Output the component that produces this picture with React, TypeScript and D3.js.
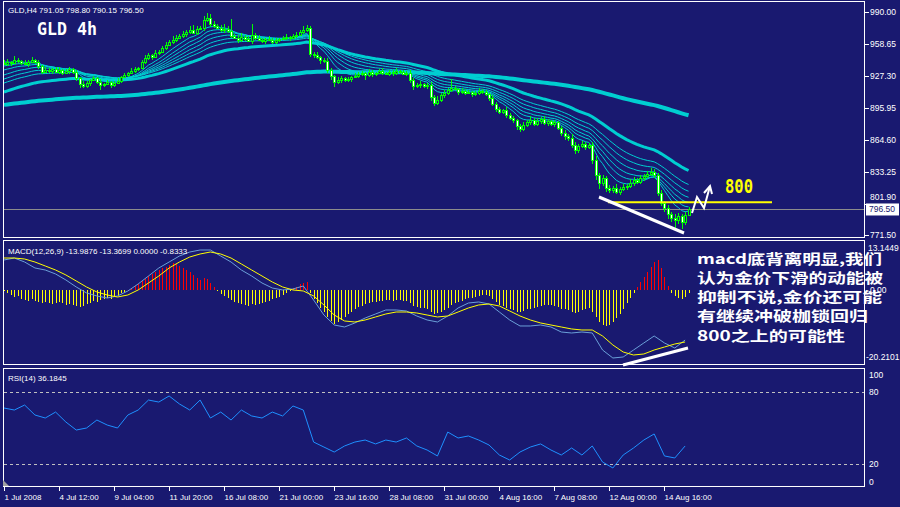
import React, { useEffect } from 'react';
import * as d3 from 'd3';

const BG = '#191970';
const CYAN = '#00CED1';

const timeLabels = ['1 Jul 2008', '4 Jul 12:00', '9 Jul 04:00', '11 Jul 20:00', '16 Jul 08:00', '21 Jul 00:00', '23 Jul 16:00', '28 Jul 08:00', '31 Jul 00:00', '4 Aug 16:00', '7 Aug 08:00', '12 Aug 00:00', '14 Aug 16:00'];
const timeLabelBars = [0, 16, 32, 48, 64, 80, 96, 112, 128, 144, 160, 176, 192];

const priceTicks = ['990.00', '958.65', '927.30', '895.95', '864.60', '833.25', '801.90', '771.50'];

const firstOpen = 940.5;
const closes = [
  939.0, 941.0, 940.0, 943.0, 942.0, 940.0, 939.0, 941.0, 943.0, 941.0,
  937.1, 931.2, 933.2, 932.2, 934.1, 931.2, 933.2, 930.2, 932.2, 934.1,
  931.2, 925.3, 919.4, 917.5, 920.4, 923.4, 925.3, 921.4, 918.5, 919.4,
  921.4, 918.5, 920.4, 922.4, 926.3, 928.3, 930.2, 932.2, 934.1, 935.1,
  941.0, 944.9, 947.9, 945.9, 949.8, 950.8, 954.7, 957.7, 960.6, 962.6,
  964.5, 966.5, 968.4, 970.4, 972.4, 969.4, 973.3, 974.3, 982.2, 984.1,
  978.2, 976.3, 974.3, 972.4, 973.3, 971.4, 966.5, 964.5, 962.6, 965.5,
  963.5, 961.6, 967.5, 964.5, 962.6, 961.6, 963.5, 962.6, 960.6, 962.6,
  963.5, 964.5, 965.5, 964.5, 966.5, 967.5, 970.4, 972.4, 974.3, 948.8,
  947.9, 945.9, 943.0, 942.0, 933.2, 927.3, 921.4, 923.4, 925.3, 923.4,
  924.3, 926.3, 927.3, 929.2, 930.2, 928.3, 931.2, 929.2, 930.2, 932.2,
  930.2, 929.2, 931.2, 930.2, 932.2, 931.2, 929.2, 930.2, 923.4, 917.5,
  918.5, 919.4, 917.5, 918.5, 906.7, 900.8, 903.8, 908.7, 910.6, 913.6,
  915.5, 914.6, 911.6, 912.6, 910.6, 911.6, 909.6, 910.6, 912.6, 911.6,
  909.6, 905.7, 899.8, 895.0, 892.0, 894.0, 889.1, 886.1, 884.2, 878.3,
  875.3, 879.3, 882.2, 884.2, 880.2, 883.2, 885.1, 881.2, 883.2, 880.2,
  882.2, 876.3, 871.4, 868.5, 866.5, 859.7, 854.8, 858.7, 860.6, 857.7,
  859.7, 845.0, 830.3, 822.4, 827.3, 817.5, 815.6, 817.5, 813.6, 816.5,
  818.5, 819.5, 822.4, 825.4, 823.4, 827.3, 829.3, 831.2, 833.2, 830.3,
  812.6, 802.8, 797.9, 792.0, 788.1, 786.2, 790.1, 784.2, 791.05, 796.5,
];
const wickUp = [
  2, 3, 1, 4, 2, 1, 3, 2, 3, 1, 2, 1, 3, 2, 1, 2, 3, 1, 2, 2,
  1, 2, 1, 3, 2, 1, 2, 1, 3, 1, 2, 1, 2, 3, 1, 2, 1, 3, 2, 1,
  2, 3, 2, 1, 3, 2, 2, 3, 2, 4, 3, 2, 3, 2, 4, 5, 3, 2, 4, 5,
  4, 3, 2, 3, 5, 3, 12, 2, 3, 4, 2, 3, 11, 2, 3, 2, 1, 3, 2, 2,
  1, 2, 3, 1, 2, 3, 2, 4, 3, 2, 2, 3, 1, 2, 3, 2, 1, 3, 2, 1,
  2, 1, 3, 2, 2, 1, 3, 2, 1, 2, 3, 1, 2, 2, 3, 1, 2, 2, 3, 2,
  2, 3, 1, 2, 3, 2, 4, 2, 3, 2, 9, 2, 1, 3, 2, 2, 1, 2, 3, 2,
  2, 1, 3, 2, 2, 1, 3, 2, 2, 1, 2, 3, 2, 4, 2, 3, 2, 3, 2, 1,
  2, 1, 2, 3, 2, 4, 3, 2, 3, 2, 2, 3, 4, 2, 3, 2, 3, 2, 4, 2,
  3, 2, 4, 3, 2, 3, 2, 3, 4, 3, 2, 3, 2, 3, 2, 4, 3, 2, 3, 2.3,
];
const wickDn = [
  1, 2, 3, 1, 2, 2, 1, 3, 1, 2, 3, 2, 1, 2, 3, 1, 2, 2, 1, 3,
  2, 3, 4, 2, 2, 3, 1, 2, 5, 2, 1, 3, 2, 1, 2, 1, 2, 1, 2, 2,
  1, 2, 2, 3, 1, 2, 1, 2, 1, 2, 2, 1, 2, 3, 2, 1, 2, 1, 3, 2,
  3, 2, 1, 2, 3, 2, 2, 1, 3, 2, 2, 1, 3, 2, 1, 2, 3, 1, 2, 2,
  2, 1, 2, 3, 1, 2, 1, 2, 2, 3, 3, 2, 4, 2, 3, 4, 5, 2, 3, 2,
  2, 3, 1, 2, 2, 5, 2, 3, 2, 1, 2, 1, 2, 3, 2, 2, 1, 2, 3, 4,
  2, 3, 2, 3, 4, 3, 2, 2, 3, 2, 2, 1, 3, 2, 2, 1, 3, 2, 2, 2,
  2, 3, 2, 3, 2, 2, 3, 2, 3, 4, 3, 2, 2, 3, 2, 2, 3, 2, 3, 2,
  3, 2, 3, 4, 3, 3, 4, 3, 2, 3, 2, 4, 5, 6, 3, 4, 3, 3, 2, 3,
  2, 3, 2, 3, 2, 2, 3, 2, 2, 3, 3, 3, 4, 5, 4, 8, 4, 7, 3, 0.9,
];

// moving averages (EMA): periods and starting values read at the left edge
const thinPeriods = [8, 12, 16, 21, 27, 34];
const thinSeeds = [941.0, 937.1, 933.2, 928.3, 924.3, 920.4];
const midPeriod = 50;
const midSeed = 911.6;
const slowPeriod = 200;
const slowSeed = 899.0;

// MACD lines sampled every 3 bars
const macdStep = 3;
const macdMain = [
  8.09, 8.63, 7.54, 5.90, 5.35, 4.26, 2.62, 0.71, -0.93, -1.75, -2.30, -1.75, -0.38, 1.53, 3.71, 5.90, 7.54,
  9.18, 10.27, 10.82, 10.82, 9.18, 7.54, 5.35, 3.71, 1.80, 0.43, -0.11, 0.16, 0.98, -2.85, -6.95, -9.68, -10.23,
  -9.13, -7.77, -6.67, -5.58, -5.58, -5.85, -7.22, -8.31, -8.86, -7.22, -5.03, -3.67, -3.39, -3.94, -6.13, -8.31,
  -9.95, -9.95, -9.68, -10.23, -11.60, -11.87, -11.60, -11.87, -16.52, -18.71, -18.43, -16.52, -14.60, -12.69,
  -14.60, -15.97, -13.79,
];
const macdSignal = [
  8.63, 8.63, 8.36, 7.54, 6.45, 5.35, 3.99, 2.35, 0.71, -0.66, -1.48, -2.03, -1.48, -0.11, 1.80, 3.71, 5.90,
  7.54, 8.91, 9.73, 10.27, 9.73, 8.63, 7.00, 5.35, 3.71, 2.07, 0.71, -0.11, -0.38, -1.75, -4.21, -6.95, -8.59,
  -8.86, -8.31, -7.49, -6.67, -6.13, -6.13, -6.40, -6.95, -7.49, -7.22, -6.13, -5.03, -4.21, -3.94, -4.49, -5.85,
  -7.22, -8.31, -9.13, -9.68, -10.23, -10.77, -11.05, -11.05, -12.69, -15.15, -17.07, -17.89, -17.61, -16.52,
  -15.70, -14.88, -14.33,
];
const macdHist = [
  -0.5, -1, -1.5, -2, -1.8, -2.5, -2.8, -3, -2.6, -3.2, -3.5, -3.8, -3.3, -3.6, -4, -3.7, -3.4, -3.8, -4.2, -3.9,
  -4.1, -4.5, -4.8, -4.4, -4.0, -3.6, -3.2, -3.4, -2.9, -2.5, -2.2, -2.6, -1.9, -1.5, -1.0, -0.6, -0.3, 0.4, 1.0, 1.6,
  2.4, 3.0, 3.6, 4.2, 4.8, 5.4, 5.9, 6.3, 6.8, 7.2, 7.0, 6.5, 6.0, 5.4, 4.8, 4.0, 3.3, 2.5, 3.2, 2.8,
  1.8, 0.8, -0.4, -1.2, -1.8, -2.4, -2.9, -3.3, -3.6, -3.9, -4.1, -4.4, -4.0, -4.2, -3.9, -3.6, -3.4, -3.0, -2.7, -2.3,
  -1.9, -1.4, -1.0, -0.5, 0.3, 0.8, 1.4, 1.8, 2.0, -0.8, -2.5, -3.8, -5.0, -6.2, -7.5, -8.6, -9.4, -9.0, -8.2, -7.6,
  -6.8, -6.0, -5.4, -4.8, -4.4, -4.0, -3.7, -3.5, -3.3, -3.0, -3.1, -2.8, -2.9, -3.0, -2.8, -2.9, -3.1, -3.0, -3.6, -4.4,
  -4.8, -5.0, -5.1, -5.3, -6.0, -6.6, -6.4, -6.0, -5.5, -4.9, -4.3, -3.8, -3.4, -3.0, -2.7, -2.4, -2.2, -1.9, -1.7, -1.5,
  -1.4, -1.8, -2.6, -3.4, -4.2, -4.6, -5.0, -5.3, -5.6, -6.0, -6.2, -5.8, -5.4, -5.2, -5.0, -4.7, -4.5, -4.3, -4.1, -4.2,
  -4.4, -4.8, -5.2, -5.4, -5.6, -6.0, -6.4, -6.0, -5.6, -5.3, -5.0, -6.2, -7.6, -8.8, -9.6, -10.0, -9.6, -8.8, -7.8, -6.6,
  -5.2, -3.8, -2.4, -1.0, 0.6, 2.0, 3.4, 4.8, 6.2, 7.5, 8.0, 6.0, 3.5, 1.0, -0.8, -1.8, -2.2, -2.5, -2.0, -0.8,
];
const macdMax = 13.1449;
const macdMin = -20.2101;

// RSI(14) sampled every 3 bars
const rsiStep = 3;
const rsi = [
  66.8, 65.1, 69.3, 60.9, 58.4, 63.4, 55.0, 48.3, 50.0, 56.7, 52.5, 50.0, 60.9, 65.1, 73.5, 71.8, 76.9,
  70.2, 65.1, 73.5, 58.4, 63.4, 56.7, 65.1, 60.1, 58.4, 63.4, 60.1, 68.5, 65.1, 38.2, 34.0, 29.8, 34.9,
  38.2, 39.9, 36.6, 39.9, 38.2, 41.6, 34.9, 31.5, 26.5, 46.6, 41.6, 43.3, 39.9, 35.7, 27.3, 23.1, 29.8,
  34.0, 36.6, 31.5, 27.3, 33.2, 27.3, 34.9, 21.4, 16.4, 27.3, 33.2, 39.9, 45.0, 26.5, 24.8, 34.9,
];
const rsiLevels = [80, 20];
const rsiTicks = ['100', '80', '20', '0'];

const noteLines = ['macd底背离明显,我们', '认为金价下滑的动能被', '抑制不说,金价还可能', '有继续冲破枷锁回归', '800之上的可能性'];
const noteWidths = [185, 186, 185, 171, 148];
const noteBaselines = [264, 283, 302, 321, 341];
const level800 = 803.5;

function ema(data: number[], period: number, seed: number): number[] {
  const k = 2 / (period + 1);
  let e = seed;
  return data.map((c, i) => {
    if (i > 0) e = e + k * (c - e);
    return e;
  });
}

const SMALL = "'Liberation Sans', Arial, sans-serif";

export default function App() {
  useEffect(() => {
    document.body.style.margin = '0';
    document.body.style.background = BG;
  }, []);

  const xb = d3.scaleLinear().domain([0, 250]).range([4, 864]);
  const cx = (i: number) => Math.round(xb(i)) + 0.5;
  const yP = d3.scaleLinear().domain([771.5, 990]).range([235, 12]);
  const yM = d3.scaleLinear().domain([macdMin, macdMax]).range([363.5, 241.5]);
  const yR = d3.scaleLinear().domain([0, 100]).range([487.5, 368.5]);

  const maLine = d3.line<number>().x((_, i) => xb(i)).y((v) => yP(v));
  const thin = thinPeriods.map((p, k) => ema(closes, p, thinSeeds[k]));
  const mid = ema(closes, midPeriod, midSeed);
  const slow = ema(closes, slowPeriod, slowSeed);

  const mLine = d3.line<number>().x((_, i) => xb(i * macdStep)).y((v) => yM(v));
  const rLine = d3.line<number>().x((_, i) => xb(i * rsiStep)).y((v) => yR(v));

  const lastClose = closes[closes.length - 1];
  const yLast = yP(lastClose);

  return (
    <svg width={900} height={507} style={{ position: 'absolute', left: 0, top: 0, display: 'block' }}>
      <rect x={0} y={0} width={900} height={507} fill={BG} />

      {/* moving averages */}
      <path d={maLine(slow) || ''} fill="none" stroke={CYAN} strokeWidth={4} />
      <path d={maLine(mid) || ''} fill="none" stroke={CYAN} strokeWidth={3} />
      {thin.map((s, k) => (
        <path key={k} d={maLine(s) || ''} fill="none" stroke={CYAN} strokeWidth={1} />
      ))}

      {/* current price line */}
      <line x1={3} x2={865} y1={Math.round(yLast) + 0.5} y2={Math.round(yLast) + 0.5} stroke="#8c8c8c" strokeWidth={1} />

      {/* candles */}
      <g shapeRendering="crispEdges">
        {closes.map((c, i) => {
          const o = i > 0 ? closes[i - 1] : firstOpen;
          const hi = Math.max(o, c) + wickUp[i];
          const lo = Math.min(o, c) - wickDn[i];
          const x = cx(i);
          const top = Math.round(yP(Math.max(o, c))) + 0.5;
          const bot = Math.round(yP(Math.min(o, c))) + 0.5;
          const bear = c < o;
          return (
            <g key={i}>
              <line x1={x} x2={x} y1={yP(hi)} y2={yP(lo)} stroke="#00ff00" strokeWidth={1} />
              <rect x={x - 1} y={top} width={2} height={Math.max(0, bot - top)} fill={bear ? '#ffffff' : BG} stroke="#00ff00" strokeWidth={1} />
            </g>
          );
        })}
      </g>

      {/* annotations on price */}
      <line x1={608} x2={772} y1={yP(level800)} y2={yP(level800)} stroke="#ffff00" strokeWidth={2} />
      <line x1={599} y1={197} x2={684} y2={233} stroke="#ffffff" strokeWidth={3} />
      <polyline points="692,213 697,197 704,208 710,186" fill="none" stroke="#ffffff" strokeWidth={2} />
      <polyline points="704,193 710,186 712,194" fill="none" stroke="#ffffff" strokeWidth={2} />
      <text x={725} y={193} fill="#ffff00" fontFamily="'DejaVu Sans Mono', monospace" fontWeight="bold" fontSize={19} textLength={28} lengthAdjust="spacingAndGlyphs">800</text>

      <text x={8} y={13} fill="#ffffff" fontFamily={SMALL} fontSize={8}>GLD,H4  791.05 798.80 790.15 796.50</text>
      <text x={37} y={35} fill="#ffffff" fontFamily="'DejaVu Sans Mono', monospace" fontWeight="bold" fontSize={17} textLength={60} lengthAdjust="spacingAndGlyphs">GLD 4h</text>

      {/* MACD */}
      <g shapeRendering="crispEdges">
        {macdHist.map((v, i) => (
          <line key={i} x1={cx(i)} x2={cx(i)} y1={yM(0)} y2={yM(v)} stroke={v >= 0 ? '#ff0000' : '#ffff00'} strokeWidth={1} />
        ))}
      </g>
      <path d={mLine(macdMain) || ''} fill="none" stroke="#6a9fd8" strokeWidth={1} />
      <path d={mLine(macdSignal) || ''} fill="none" stroke="#ffff00" strokeWidth={1} />
      <text x={8} y={254} fill="#ffffff" fontFamily={SMALL} fontSize={8}>MACD(12,26,9) -13.9876 -13.3699 0.0000 -0.8333</text>
      <line x1={623} y1={365} x2={688} y2={348} stroke="#ffffff" strokeWidth={3} />

      {/* RSI */}
      {rsiLevels.map((l) => (
        <line key={l} x1={4} x2={865} y1={Math.round(yR(l)) + 0.5} y2={Math.round(yR(l)) + 0.5} stroke="#c0c0c0" strokeWidth={1} strokeDasharray="3,3" />
      ))}
      <path d={rLine(rsi) || ''} fill="none" stroke="#1e90ff" strokeWidth={1} />
      <text x={8} y={381} fill="#ffffff" fontFamily={SMALL} fontSize={8}>RSI(14) 36.1845</text>

      {/* panel frames */}
      <g fill="none" stroke="#ffffff" strokeWidth={1} shapeRendering="crispEdges">
        <rect x={3.5} y={1.5} width={861} height={236} />
        <rect x={3.5} y={240.5} width={861} height={124} />
        <rect x={3.5} y={368.5} width={861} height={118} />
      </g>
      <polygon points="3,480 3,486 9,486" fill="#a0a0a0" />

      {/* price axis */}
      {priceTicks.map((t) => {
        const y = yP(+t);
        const ty = t === '801.90' ? yLast - 9 : y + 3;
        return (
          <g key={t}>
            <line x1={865} x2={869} y1={Math.round(y) + 0.5} y2={Math.round(y) + 0.5} stroke="#ffffff" />
            <text x={870} y={ty} fill="#ffffff" fontFamily={SMALL} fontSize={8.5}>{t}</text>
          </g>
        );
      })}
      <rect x={866} y={yLast - 6} width={33} height={12} fill="#ffffff" />
      <text x={869} y={yLast + 3} fill={BG} fontFamily={SMALL} fontSize={8.5}>{lastClose.toFixed(2)}</text>

      {/* MACD axis */}
      <text x={868} y={251} fill="#ffffff" fontFamily={SMALL} fontSize={8.5}>{macdMax.toFixed(4)}</text>
      <text x={870} y={yM(0) + 3} fill="#ffffff" fontFamily={SMALL} fontSize={8.5}>0.00</text>
      <text x={866} y={360} fill="#ffffff" fontFamily={SMALL} fontSize={8.5}>{macdMin.toFixed(4)}</text>

      {/* RSI axis */}
      {rsiTicks.map((t) => {
        const v = +t;
        const y = v === 100 ? yR(v) + 6 : v === 0 ? yR(v) - 6 : yR(v);
        return (
          <text key={t} x={869} y={y + 3} fill="#ffffff" fontFamily={SMALL} fontSize={8.5}>{t}</text>
        );
      })}

      {/* time axis */}
      {timeLabels.map((t, k) => {
        const x = cx(timeLabelBars[k]);
        return (
          <g key={t}>
            <line x1={x} x2={x} y1={487} y2={491} stroke="#ffffff" />
            <text x={x} y={500} fill="#ffffff" fontFamily={SMALL} fontSize={8}>{t}</text>
          </g>
        );
      })}

      {/* chinese note */}
      {noteLines.map((t, k) => (
        <text key={k} x={697} y={noteBaselines[k]} fill="#ffffff" fontFamily="'Noto Sans CJK SC', sans-serif" fontWeight="bold" fontSize={14} textLength={noteWidths[k]} lengthAdjust="spacingAndGlyphs">{t}</text>
      ))}
    </svg>
  );
}
